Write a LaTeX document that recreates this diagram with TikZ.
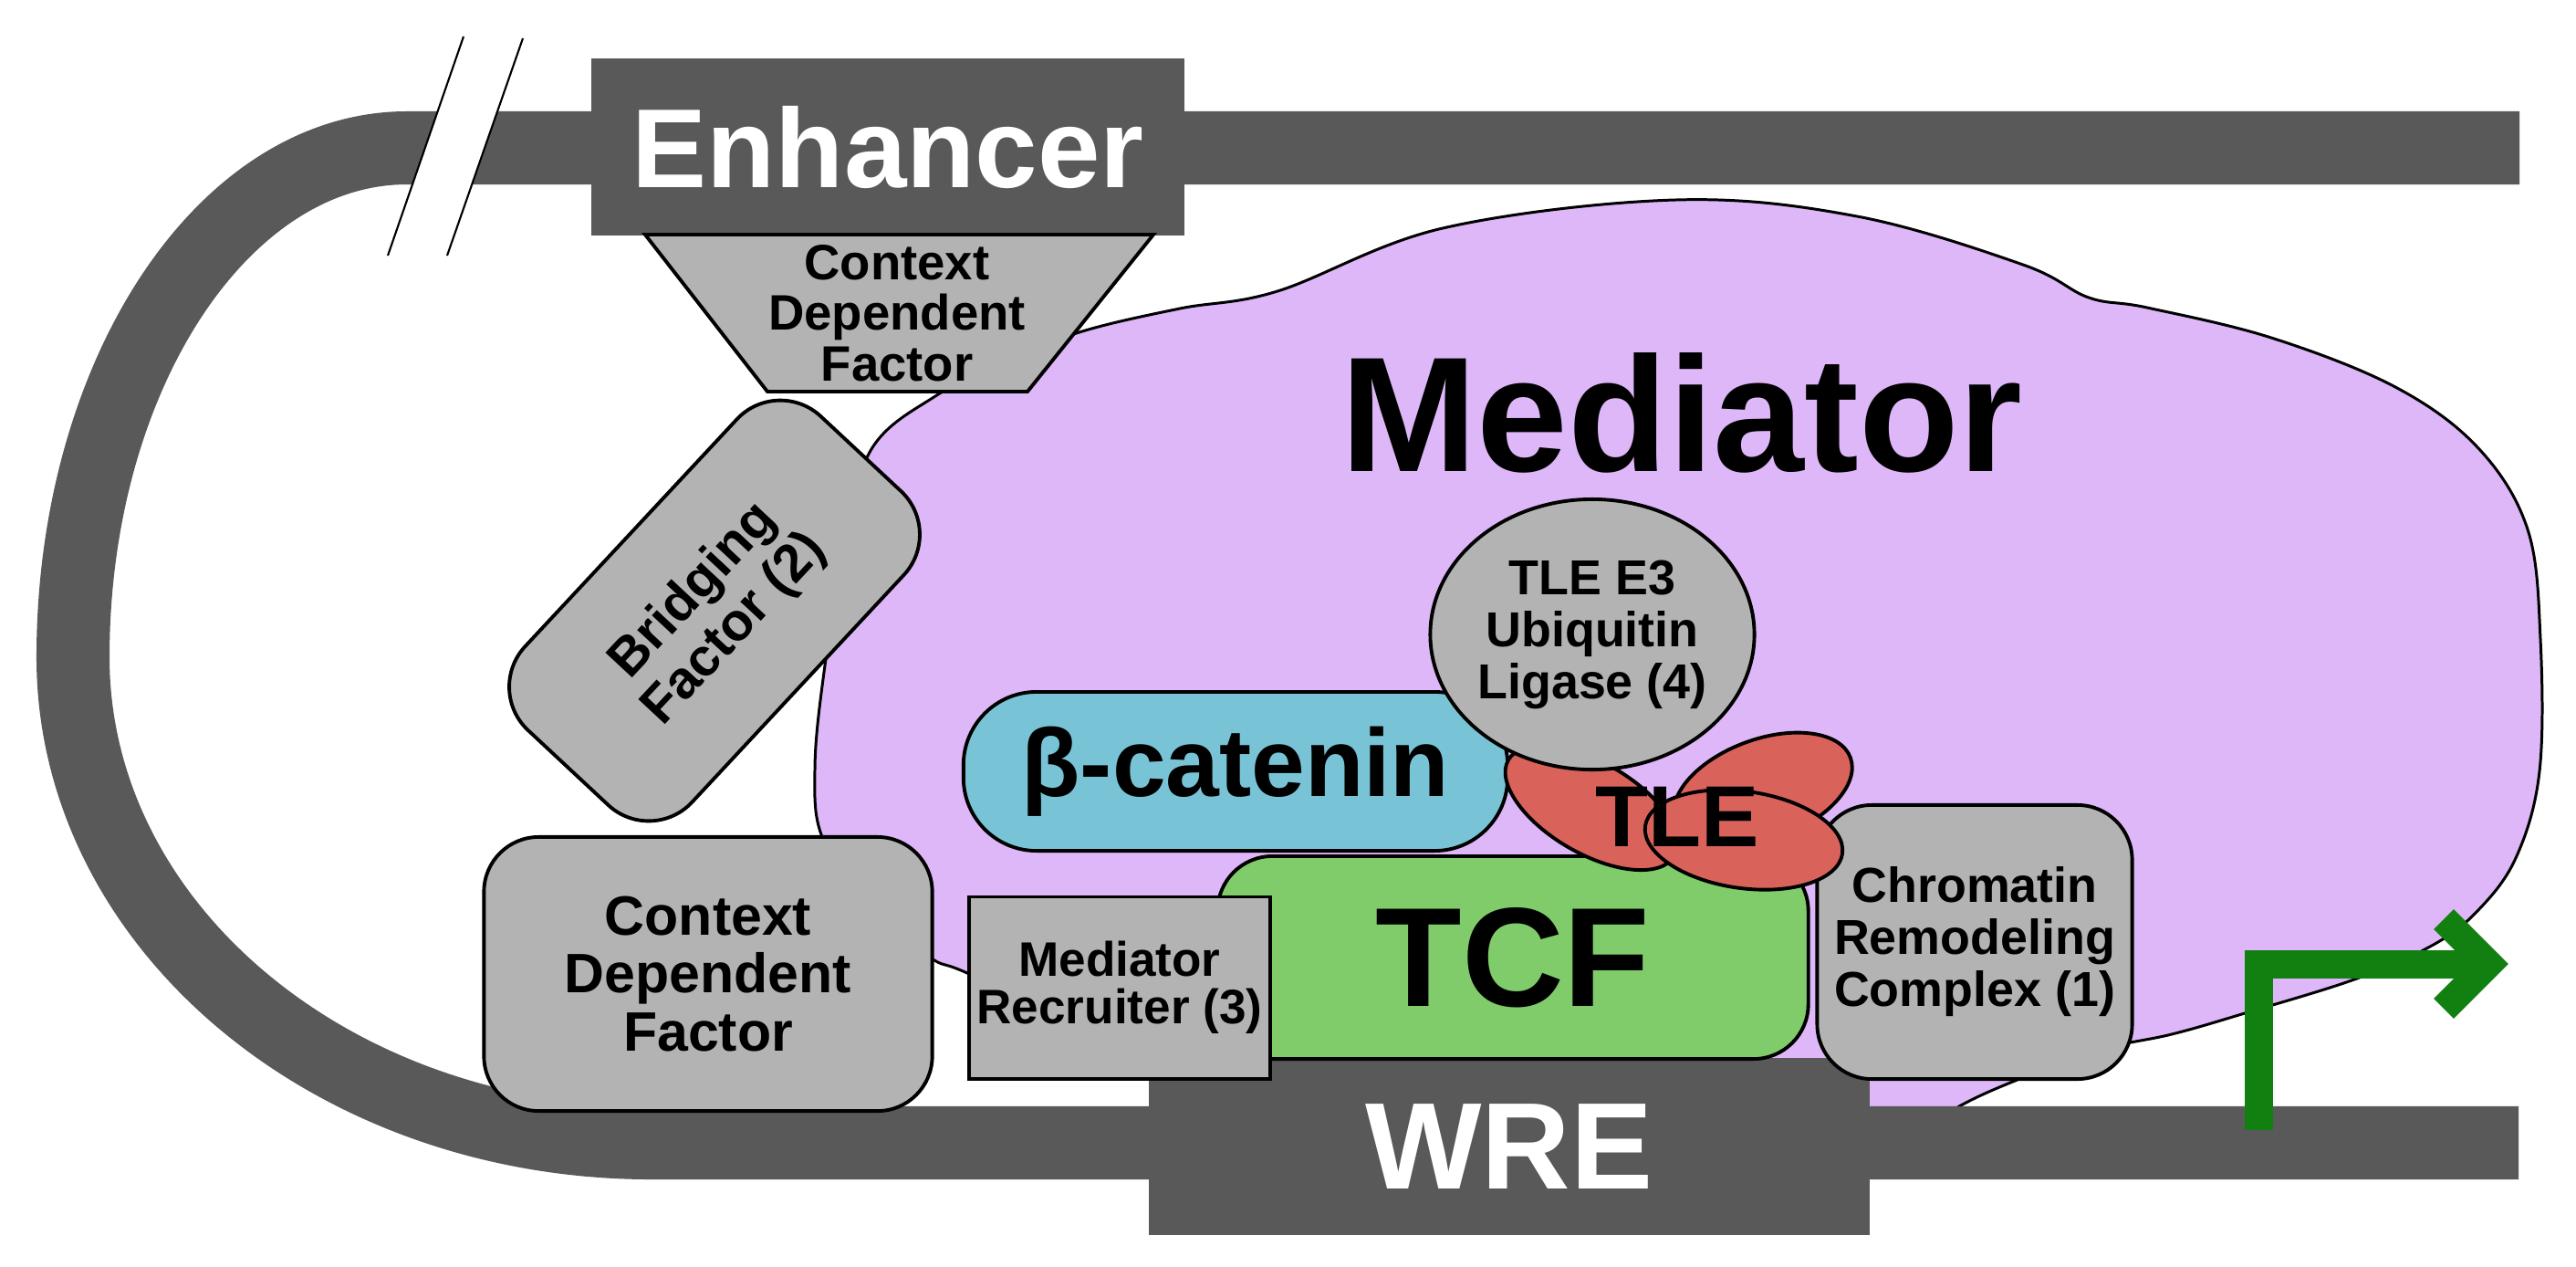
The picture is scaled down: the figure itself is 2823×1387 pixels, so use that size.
\documentclass[tikz,border=0pt]{standalone}
\usepackage{fontspec}
\setmainfont{Liberation Sans}
\usepackage{tikz}
\usetikzlibrary{shapes.geometric}

\definecolor{dnagray}{RGB}{89,89,89}
\definecolor{boxgray}{RGB}{179,179,179}
\definecolor{medlilac}{RGB}{221,183,247}
\definecolor{catblue}{RGB}{120,196,214}
\definecolor{tcfgreen}{RGB}{128,204,106}
\definecolor{tlered}{RGB}{217,98,91}
\definecolor{arrowgreen}{RGB}{17,128,17}

\tikzset{
	dna/.style={draw=dnagray, line width=0.8cm},
	cutline/.style={draw=black, line width=0.6pt},
	rim/.style={draw=black, line width=1.1pt},
	graybox/.style={rim, fill=boxgray, inner sep=0pt, align=center, font=\bfseries\fontsize{15.3}{16.2}\selectfont},
	dnabox/.style={fill=dnagray, inner sep=0pt, text=white},
	lobe/.style={ellipse, rim, fill=tlered, inner sep=0pt},
	promoter/.style={draw=arrowgreen, line width=0.31cm, line join=miter},
	blob/.style={fill=medlilac, draw=black, line width=0.85pt},
}

\begin{document}
\begin{tikzpicture}[x=0.01cm, y=-0.01cm]
			\useasboundingbox (0,0) rectangle (2823,1387);
			\draw[blob] plot[smooth cycle, tension=0.6] coordinates {(893,843) (902,744) (925,600) (955,492) (1025,434) (1105,395) (1186,363) (1293,338) (1400,319) (1581,250) (1836,219) (2035,237) (2217,290) (2289,326) (2353,337) (2489,370) (2625,424) (2716,491) (2770,580) (2784,700) (2783,845) (2757,940) (2713,1000) (2663,1037) (2580,1073) (2460,1110) (2380,1133) (2300,1150) (2213,1182) (2147,1212) (2090,1250) (1800,1260) (1400,1200) (1200,1130) (1060,1066) (1018,1048) (950,990) (901,917)};
			\draw[dna] (2761,162) -- (446,162) .. controls (244,162) and (80,412) .. (80,720) .. controls (80,1014) and (364,1252) .. (714,1252) -- (2760,1252);
			\coordinate (cutA1) at (508,40);
			\coordinate (cutA2) at (425,280);
			\coordinate (cutB1) at (573,42);
			\coordinate (cutB2) at (490,280);
			\fill[white] (cutA1) -- (cutB1) -- (cutB2) -- (cutA2) -- cycle;
			\draw[cutline] (cutA1) -- (cutA2) (cutB1) -- (cutB2);
			\node[dnabox, minimum width=6.5cm, minimum height=1.93cm, font=\bfseries\fontsize{35}{37}\selectfont] (enh) at (973,161) {Enhancer};
			\coordinate (ctxTL) at (707,257);
			\coordinate (ctxTR) at (1264,257);
			\coordinate (ctxBR) at (1126,429);
			\coordinate (ctxBL) at (841,429);
			\draw[rim, fill=boxgray] (ctxTL) -- (ctxTR) -- (ctxBR) -- (ctxBL) -- cycle;
			\node[align=center, font=\bfseries\fontsize{15.5}{15.8}\selectfont] (ctxtop) at (983,343) {Context\\Dependent\\Factor};
			\node[graybox, rotate=47, rounded corners=0.65cm, minimum width=4.7cm, minimum height=2.5cm, font=\bfseries\fontsize{16.5}{17.5}\selectfont] (bridge) at (783,669) {Bridging\\Factor (2)};
			\node[graybox, rounded corners=0.6cm, minimum width=4.91cm, minimum height=3cm, font=\bfseries\fontsize{17.3}{18.1}\selectfont] (ctxlow) at (776,1067) {Context\\Dependent\\Factor};
			\node[rim, fill=catblue, rounded corners=0.8cm, inner sep=0pt, minimum width=5.96cm, minimum height=1.74cm, font=\bfseries\fontsize{30}{32}\selectfont] (bcat) at (1354,845) {β-catenin};
			\node[dnabox, minimum width=7.9cm, minimum height=1.93cm, font=\bfseries\fontsize{38.4}{40}\selectfont] (wre) at (1654,1256) {WRE};
			\node[rim, fill=tcfgreen, rounded corners=0.6cm, inner sep=0pt, minimum width=6.47cm, minimum height=2.22cm, font=\bfseries\fontsize{44}{46}\selectfont] (tcf) at (1658,1049) {TCF};
			\node[graybox, minimum width=3.3cm, minimum height=1.99cm, font=\bfseries\fontsize{15.1}{14.8}\selectfont] (recruit) at (1227,1082) {Mediator\\Recruiter (3)};
			\node[graybox, rounded corners=0.6cm, minimum width=3.45cm, minimum height=3cm] (remodel) at (2164,1032) {Chromatin\\Remodeling\\Complex (1)};
			\node[lobe, minimum width=2.1cm, minimum height=1cm, rotate=-30] (tleA) at (1744,885) {};
			\node[lobe, minimum width=2.04cm, minimum height=1.1cm, rotate=20] (tleB) at (1932,865) {};
			\node[lobe, minimum width=2.18cm, minimum height=1.06cm, rotate=-8] (tleC) at (1911,920) {};
			\node[graybox, ellipse, minimum width=3.55cm, minimum height=2.96cm] (ligase) at (1745,695) {TLE E3\\Ubiquitin\\Ligase (4)};
			\node[font=\bfseries\fontsize{27}{29}\selectfont] (tle) at (1838,895) {TLE};
			\node[font=\bfseries\fontsize{51}{54}\selectfont] (mediator) at (1843,452) {Mediator};
			\coordinate (tss) at (2475,1238);
			\coordinate (tsshead) at (2727,1056);
			\draw[promoter] (tss) |- (tsshead);
			\draw[promoter] (tsshead) ++(-49,-49) -- (tsshead) -- ++(-49,49);
		\end{tikzpicture}
\end{document}
